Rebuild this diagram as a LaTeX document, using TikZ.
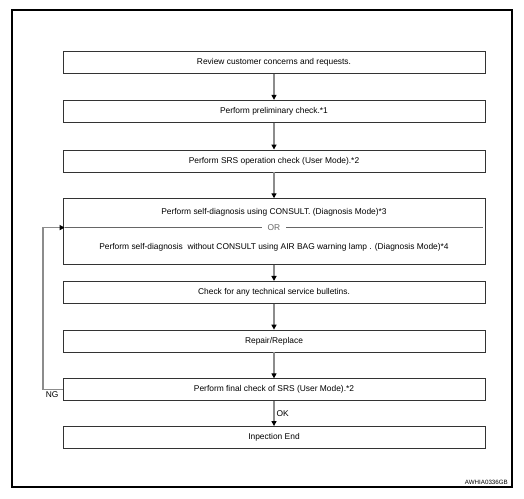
\documentclass[tikz,border=0pt]{standalone}
\usepackage{fontspec}
\setmainfont{Liberation Sans}
\usetikzlibrary{arrows.meta, positioning, calc}

\begin{document}
\begin{tikzpicture}[
      x=1pt, y=-1pt,
      node distance = 26pt,
      font=\fontsize{8.4}{10}\selectfont,
      base/.style = {draw=black!80, line width=0.7pt, text centered, minimum width=422pt, inner sep=0pt},
      % --- Estilos de Blocos ---
      stepbox/.style = {base, rectangle, minimum height=22pt},
      diagbox/.style = {base, rectangle, minimum height=66pt},
      arrow/.style = {draw=black!45, line width=1.3pt, -{Triangle[color=black, length=5pt, width=5pt]}},
      lbl/.style = {font=\fontsize{8.4}{10}\selectfont, inner sep=1pt}
    ]

      % --- Moldura ---
      \useasboundingbox (0,0) rectangle (524,498);
      \draw[line width=1.6pt] (12,10) rectangle (512,487);

      % --- Blocos ---
      \node [stepbox] (review) at (274,62.5) {Review customer concerns and requests.};
      \node [stepbox, below=of review] (prelim) {Perform preliminary check.*1};
      \node [stepbox, below=27pt of prelim] (srsop) {Perform SRS operation check (User Mode).*2};
      \node [diagbox, below=26pt of srsop] (diag) {};
      \node [stepbox, below=16pt of diag] (tsb) {Check for any technical service bulletins.};
      \node [stepbox, below=of tsb] (repair) {Repair/Replace};
      \node [stepbox, below=of repair] (final) {Perform final check of SRS (User Mode).*2};
      \node [stepbox, below=25pt of final] (done) {Inpection End};

      % Texto do bloco de autodiagnóstico
      \coordinate (orw) at ($(diag.west)+(2,-4)$);
      \coordinate (ore) at ($(diag.east)+(-2,-4)$);
      \draw [black!60, line width=0.5pt] (orw) -- node[fill=white, inner xsep=6pt, inner ysep=1pt] (or) {OR} (ore);
      \node [lbl, above=6pt of or] (withc) {Perform self-diagnosis using CONSULT. (Diagnosis Mode)*3};
      \node [lbl, below=10pt of or] (withoutc) {Perform self-diagnosis\ \ without CONSULT using AIR BAG warning lamp . (Diagnosis Mode)*4};

      % --- Conexões ---
      \draw [arrow] (review) -- (prelim);
      \draw [arrow] (prelim) -- (srsop);
      \draw [arrow] (srsop) -- (diag);
      \draw [arrow] (diag) -- (tsb);
      \draw [arrow] (tsb) -- (repair);
      \draw [arrow] (repair) -- (final);
      \draw [arrow] (final) -- node[lbl, right=1pt] (ok) {OK} (done);

      % Retorno NG
      \coordinate (ngc) at (43,0);
      \draw [arrow] (final.west) -- (final.west -| ngc) |- (orw);
      \node [lbl, anchor=north east] (ng) at ($(final.west)+(-3,1)$) {NG};

      % --- Código da figura ---
      \node [anchor=south east, font=\fontsize{6.2}{7}\selectfont, inner sep=0pt] (code) at (508,485) {AWHIA0336GB};

    \end{tikzpicture}
\end{document}
